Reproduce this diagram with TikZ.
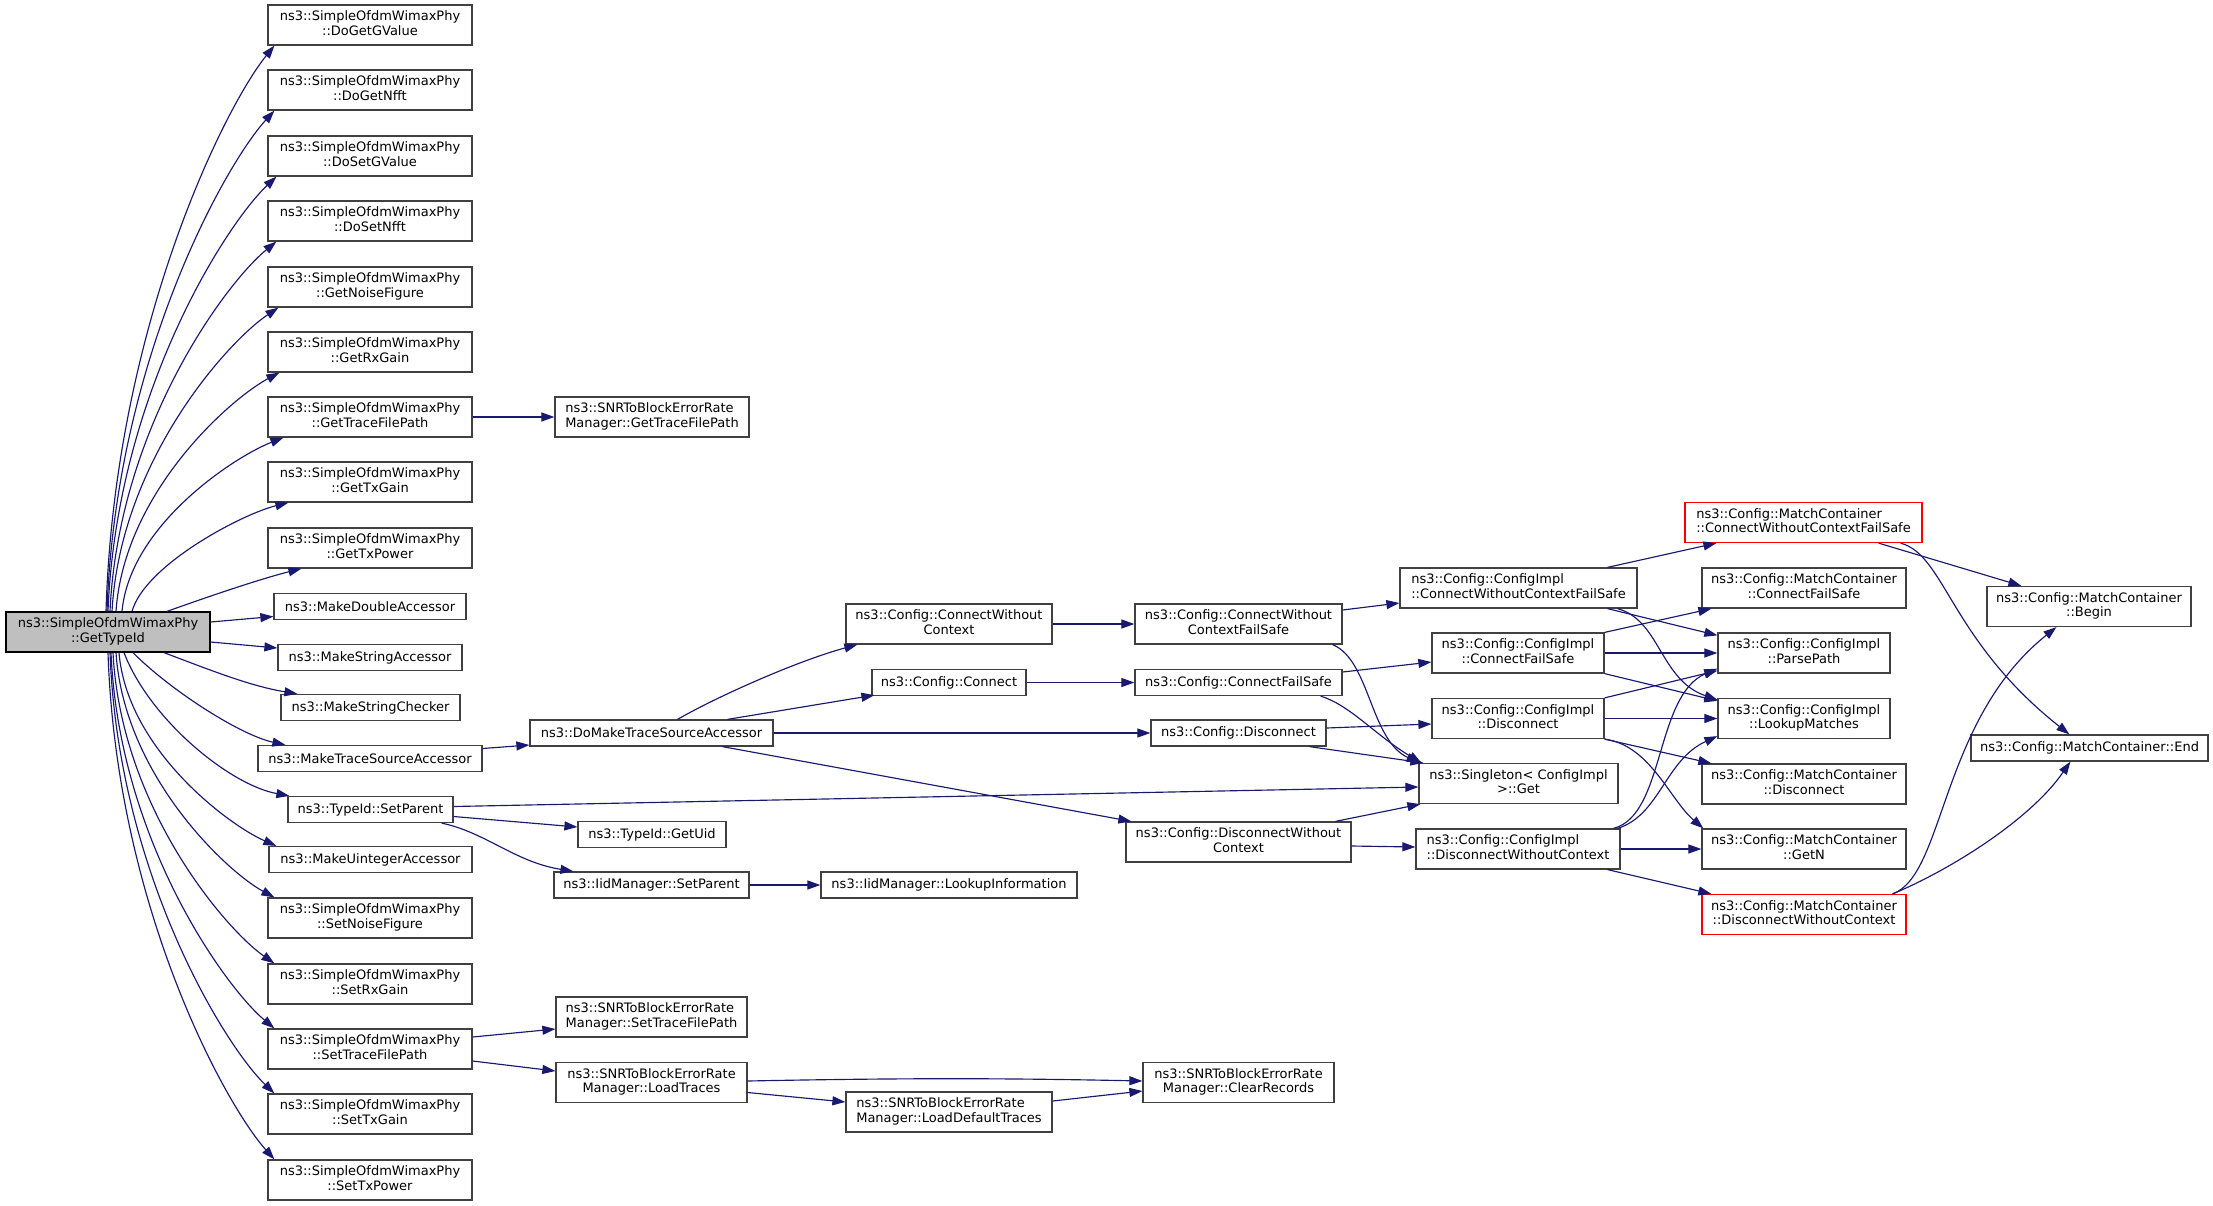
\documentclass[tikz,border=0pt]{standalone}
\usepackage{fontspec}
\setmainfont{DejaVu Sans}
\usetikzlibrary{arrows.meta}
\definecolor{edgec}{HTML}{191970}
\definecolor{nodeborder}{HTML}{404040}
\definecolor{mainfill}{HTML}{BFBFBF}
\definecolor{redborder}{HTML}{FF0000}
\newcommand{\tl}[2]{\begin{tabular}{@{}l@{}}#1\\\hfil #2\end{tabular}}
\begin{document}
\begin{tikzpicture}[x=1pt,y=-1pt,
  box/.style={rectangle,draw=nodeborder,line width=1.25pt,fill=white,inner sep=0pt,
    font=\fontsize{13}{14.7}\selectfont},
  two/.style={minimum height=40pt},
  one/.style={minimum height=26pt},
  mainbox/.style={box,fill=mainfill,draw=black},
  redbox/.style={box,draw=redborder},
  edge/.style={draw=edgec,line width=1.15pt,-{Triangle[length=13pt,width=9pt]}}]
\fill[white] (0,0) rectangle (2213,1205);
\useasboundingbox (0,0) rectangle (2213,1205);

% main
\node[mainbox,two,minimum width=204pt] (m) at (108,632) {\tl{ns3::SimpleOfdmWimaxPhy}{::GetTypeId}};

% left column
\node[box,two,minimum width=204pt] (a1) at (370,25) {\tl{ns3::SimpleOfdmWimaxPhy}{::DoGetGValue}};
\node[box,two,minimum width=204pt] (a2) at (370,90) {\tl{ns3::SimpleOfdmWimaxPhy}{::DoGetNfft}};
\node[box,two,minimum width=204pt] (a3) at (370,156) {\tl{ns3::SimpleOfdmWimaxPhy}{::DoSetGValue}};
\node[box,two,minimum width=204pt] (a4) at (370,221) {\tl{ns3::SimpleOfdmWimaxPhy}{::DoSetNfft}};
\node[box,two,minimum width=204pt] (a5) at (370,287) {\tl{ns3::SimpleOfdmWimaxPhy}{::GetNoiseFigure}};
\node[box,two,minimum width=204pt] (a6) at (370,352) {\tl{ns3::SimpleOfdmWimaxPhy}{::GetRxGain}};
\node[box,two,minimum width=204pt] (a7) at (370,417) {\tl{ns3::SimpleOfdmWimaxPhy}{::GetTraceFilePath}};
\node[box,two,minimum width=204pt] (a8) at (370,482) {\tl{ns3::SimpleOfdmWimaxPhy}{::GetTxGain}};
\node[box,two,minimum width=204pt] (a9) at (370,548) {\tl{ns3::SimpleOfdmWimaxPhy}{::GetTxPower}};
\node[box,one,minimum width=192pt] (b1) at (370,606.5) {ns3::MakeDoubleAccessor};
\node[box,one,minimum width=184pt] (b2) at (370,657.5) {ns3::MakeStringAccessor};
\node[box,one,minimum width=179pt] (b3) at (370.5,707.5) {ns3::MakeStringChecker};
\node[box,one,minimum width=224pt] (b4) at (370,758.5) {ns3::MakeTraceSourceAccessor};
\node[box,one,minimum width=165pt] (b5) at (370.5,809.5) {ns3::TypeId::SetParent};
\node[box,one,minimum width=203pt] (b6) at (370.5,859.5) {ns3::MakeUintegerAccessor};
\node[box,two,minimum width=204pt] (c1) at (370,918) {\tl{ns3::SimpleOfdmWimaxPhy}{::SetNoiseFigure}};
\node[box,two,minimum width=204pt] (c2) at (370,984) {\tl{ns3::SimpleOfdmWimaxPhy}{::SetRxGain}};
\node[box,two,minimum width=204pt] (c3) at (370,1049) {\tl{ns3::SimpleOfdmWimaxPhy}{::SetTraceFilePath}};
\node[box,two,minimum width=204pt] (c4) at (370,1114) {\tl{ns3::SimpleOfdmWimaxPhy}{::SetTxGain}};
\node[box,two,minimum width=204pt] (c5) at (370,1180) {\tl{ns3::SimpleOfdmWimaxPhy}{::SetTxPower}};

% column 2
\node[box,two,minimum width=194pt] (s1) at (652,417) {\tl{ns3::SNRToBlockErrorRate}{Manager::GetTraceFilePath}};
\node[box,one,minimum width=243pt] (dm) at (651.5,733) {ns3::DoMakeTraceSourceAccessor};
\node[box,one,minimum width=148pt] (gu) at (652,834.5) {ns3::TypeId::GetUid};
\node[box,one,minimum width=195pt] (iis) at (651.5,885) {ns3::IidManager::SetParent};
\node[box,two,minimum width=191pt] (s2) at (651.5,1017) {\tl{ns3::SNRToBlockErrorRate}{Manager::SetTraceFilePath}};
\node[box,two,minimum width=191pt] (lt) at (651.5,1082.5) {\tl{ns3::SNRToBlockErrorRate}{Manager::LoadTraces}};

% column 3
\node[box,two,minimum width=206pt] (cwc) at (949,624) {\tl{ns3::Config::ConnectWithout}{Context}};
\node[box,one,minimum width=154pt] (cn) at (949,682.5) {ns3::Config::Connect};
\node[box,one,minimum width=256pt] (li) at (949,885) {ns3::IidManager::LookupInformation};
\node[box,two,minimum width=206pt] (ldt) at (949,1112) {\tl{ns3::SNRToBlockErrorRate}{Manager::LoadDefaultTraces}};

% column 4
\node[box,two,minimum width=207pt] (cwcfs) at (1238.5,624) {\tl{ns3::Config::ConnectWithout}{ContextFailSafe}};
\node[box,one,minimum width=207pt] (cfs) at (1238.5,682.5) {ns3::Config::ConnectFailSafe};
\node[box,one,minimum width=175pt] (dis) at (1238.5,733) {ns3::Config::Disconnect};
\node[box,two,minimum width=225pt] (dwc) at (1238.5,842) {\tl{ns3::Config::DisconnectWithout}{Context}};
\node[box,two,minimum width=191pt] (cr) at (1238.5,1082.5) {\tl{ns3::SNRToBlockErrorRate}{Manager::ClearRecords}};

% column 5
\node[box,two,minimum width=237pt] (icwcfs) at (1518.5,588) {\tl{ns3::Config::ConfigImpl}{::ConnectWithoutContextFailSafe}};
\node[box,two,minimum width=172pt] (icfs) at (1518,653) {\tl{ns3::Config::ConfigImpl}{::ConnectFailSafe}};
\node[box,two,minimum width=172pt] (idis) at (1518,718.5) {\tl{ns3::Config::ConfigImpl}{::Disconnect}};
\node[box,two,minimum width=199pt] (sg) at (1518.5,783.5) {\tl{ns3::Singleton< ConfigImpl}{>::Get}};
\node[box,two,minimum width=204pt] (idwc) at (1518,849) {\tl{ns3::Config::ConfigImpl}{::DisconnectWithoutContext}};

% column 6
\node[redbox,two,minimum width=237pt] (mcwcfs) at (1803.5,522.5) {\tl{ns3::Config::MatchContainer}{::ConnectWithoutContextFailSafe}};
\node[box,two,minimum width=204pt] (mcfs) at (1804,588) {\tl{ns3::Config::MatchContainer}{::ConnectFailSafe}};
\node[box,two,minimum width=172pt] (pp) at (1804,653) {\tl{ns3::Config::ConfigImpl}{::ParsePath}};
\node[box,two,minimum width=172pt] (lm) at (1804,718.5) {\tl{ns3::Config::ConfigImpl}{::LookupMatches}};
\node[box,two,minimum width=204pt] (mdis) at (1804,784) {\tl{ns3::Config::MatchContainer}{::Disconnect}};
\node[box,two,minimum width=204pt] (gn) at (1804,849) {\tl{ns3::Config::MatchContainer}{::GetN}};
\node[redbox,two,minimum width=204pt] (mdwc) at (1804,914.5) {\tl{ns3::Config::MatchContainer}{::DisconnectWithoutContext}};

% column 7
\node[box,two,minimum width=204pt] (bg) at (2089,606.5) {\tl{ns3::Config::MatchContainer}{::Begin}};
\node[box,one,minimum width=237pt] (en) at (2089.5,748) {ns3::Config::MatchContainer::End};

% ---- edges from main, upper fan
\draw[edge] ([xshift=-2pt]m.north) .. controls (114.5,328.5) and (224.3,107.4) .. ([xshift=7pt]a1.south west);
\draw[edge] ([xshift=-1pt]m.north) .. controls (115.4,361) and (224.6,165.2) .. ([xshift=7pt]a2.south west);
\draw[edge] (m.north) .. controls (116.5,394) and (226.3,224) .. ([xshift=9pt]a3.south west);
\draw[edge] ([xshift=2pt]m.north) .. controls (118.4,426.5) and (226.9,281.8) .. ([xshift=9pt]a4.south west);
\draw[edge] ([xshift=4pt]m.north) .. controls (120.4,459.5) and (228.9,340.6) .. ([xshift=11pt]a5.south west);
\draw[edge] ([xshift=8pt]m.north) .. controls (124.2,492) and (230.8,398.4) .. ([xshift=12pt]a6.south west);
\draw[edge] ([xshift=14pt]m.north) .. controls (130.1,524.5) and (235.4,456.3) .. ([xshift=16pt]a7.south west);
\draw[edge] ([xshift=24pt]m.north) .. controls (145,565) and (241.9,514.1) .. ([xshift=21pt]a8.south west);
\draw[edge] ([xshift=59pt]m.north) .. controls (210,596) and (260,579) .. ([xshift=34pt]a9.south west);
% straight
\draw[edge] ([yshift=10pt]m.east) -- ([yshift=-10pt]b1.west);
\draw[edge] ([yshift=-10pt]m.east) -- ([yshift=9.5pt]b2.west);
% lower fan
\draw[edge] ([xshift=56pt]m.south) .. controls (210,670) and (250,686) .. ([xshift=17pt]b3.north west);
\draw[edge] ([xshift=25pt]m.south) .. controls (170,690) and (240,735) .. ([xshift=28pt]b4.north west);
\draw[edge] ([xshift=16pt]m.south) .. controls (150,720) and (230,785) .. ([xshift=2pt]b5.north west);
\draw[edge] ([xshift=11pt]m.south) .. controls (127,749.5) and (229.3,825.5) .. ([xshift=8pt]b6.north west);
\draw[edge] ([xshift=8pt]m.south) .. controls (124,775.5) and (227,871.8) .. ([xshift=7pt]c1.north west);
\draw[edge] ([xshift=5pt]m.south) .. controls (121,808) and (226.1,929.7) .. ([xshift=7pt]c2.north west);
\draw[edge] ([xshift=3pt]m.south) .. controls (119,840.5) and (225.5,987.5) .. ([xshift=7pt]c3.north west);
\draw[edge] ([xshift=2pt]m.south) .. controls (118,873.5) and (225.2,1046.3) .. ([xshift=7pt]c4.north west);
\draw[edge] (m.south) .. controls (116.4,906) and (224.9,1104.1) .. ([xshift=7pt]c5.north west);

% ---- second level
\draw[edge] (a7.east) -- (s1.west);
\draw[edge] ([yshift=10pt]b4.east) -- ([yshift=-12pt]dm.west);
\draw[edge] ([yshift=3pt]b5.east) -- ([yshift=-3.5pt]sg.west);
\draw[edge] ([yshift=-7pt]b5.east) -- ([yshift=7.5pt]gu.west);
\draw[edge] ([xshift=-12pt]b5.south east) .. controls (485,832) and (515,862) .. ([xshift=20pt]iis.north west);
\draw[edge] (iis.east) -- (li.west);
\draw[edge] ([yshift=12pt]c3.east) -- ([yshift=-12pt]s2.west);
\draw[edge] ([yshift=-12pt]c3.east) -- ([yshift=11.5pt]lt.west);
\draw[edge] ([yshift=1.5pt]lt.east) .. controls (900,1078) and (1000,1078) .. ([yshift=1.5pt]cr.west);
\draw[edge] ([yshift=-10pt]lt.east) -- ([yshift=10pt]ldt.west);
\draw[edge] ([yshift=11pt]ldt.east) -- ([yshift=-8.5pt]cr.west);

% ---- DoMakeTraceSourceAccessor
\draw[edge] ([xshift=26pt]dm.north) .. controls (720,695) and (800,660) .. ([xshift=12pt]cwc.south west);
\draw[edge] ([xshift=76pt]dm.north) -- ([xshift=3pt,yshift=1pt]cn.south west);
\draw[edge] (dm.east) -- (dis.west);
\draw[edge] ([xshift=71pt]dm.south) -- ([xshift=6pt]dwc.north west);

% ---- column 3 -> 4
\draw[edge] (cwc.east) -- (cwcfs.west);
\draw[edge] (cn.east) -- (cfs.west);

% ---- column 4 -> 5
\draw[edge] ([yshift=14pt]cwcfs.east) -- ([yshift=-15pt]icwcfs.west);
\draw[edge] ([xshift=-10pt]cwcfs.south east) .. controls (1370,660) and (1370,740) .. ([xshift=1pt]sg.north west);
\draw[edge] ([yshift=10.5pt]cfs.east) -- ([yshift=-9pt]icfs.west);
\draw[edge] ([xshift=-22pt]cfs.south east) .. controls (1350,705) and (1375,735) .. ([xshift=3pt]sg.north west);
\draw[edge] ([yshift=5pt]dis.east) -- ([yshift=-5.5pt]idis.west);
\draw[edge] ([xshift=-17pt]dis.south east) -- ([xshift=5pt]sg.north west);
\draw[edge] ([xshift=97pt]dwc.north) -- ([xshift=2pt]sg.south west);
\draw[edge] ([yshift=-4pt]dwc.east) -- ([yshift=2pt]idwc.west);

% ---- column 5 -> 6
\draw[edge] ([xshift=89pt]icwcfs.north) -- ([xshift=32pt]mcwcfs.south west);
\draw[edge] ([xshift=89pt]icwcfs.south) -- ([yshift=-3pt]pp.north west);
\draw[edge] ([xshift=99pt]icwcfs.south) .. controls (1660,620) and (1660,680) .. ([yshift=-2pt]lm.north west);
\draw[edge] (icfs.north east) -- ([xshift=10pt]mcfs.south west);
\draw[edge] (icfs.east) -- (pp.west);
\draw[edge] (icfs.south east) -- ([yshift=-3pt]lm.north west);
\draw[edge] (idis.north east) -- ([yshift=3pt]pp.south west);
\draw[edge] (idis.east) -- (lm.west);
\draw[edge] (idis.south east) -- ([xshift=10pt]mdis.north west);
\draw[edge] (idis.south east) .. controls (1650,745) and (1670,800) .. ([xshift=2pt]gn.north west);
\draw[edge] ([xshift=-7pt]idwc.north east) .. controls (1665,815) and (1655,695) .. ([yshift=5pt]pp.south west);
\draw[edge] ([xshift=-3pt]idwc.north east) .. controls (1660,815) and (1665,760) .. ([yshift=3pt]lm.south west);
\draw[edge] (idwc.east) -- (gn.west);
\draw[edge] ([xshift=-13pt]idwc.south east) -- ([xshift=10pt]mdwc.north west);

% ---- column 6 -> 7
\draw[edge] ([xshift=-44pt]mcwcfs.south east) -- ([xshift=35pt]bg.north west);
\draw[edge] ([xshift=-22pt]mcwcfs.south east) .. controls (1945,555) and (1950,640) .. ([xshift=99pt]en.north west);
\draw[edge] ([xshift=-14pt]mdwc.north east) .. controls (1945,875) and (1940,720) .. ([xshift=70pt]bg.south west);
\draw[edge] ([xshift=-14pt]mdwc.north east) .. controls (1950,870) and (2030,820) .. ([xshift=100pt]en.south west);
\end{tikzpicture}
\end{document}
